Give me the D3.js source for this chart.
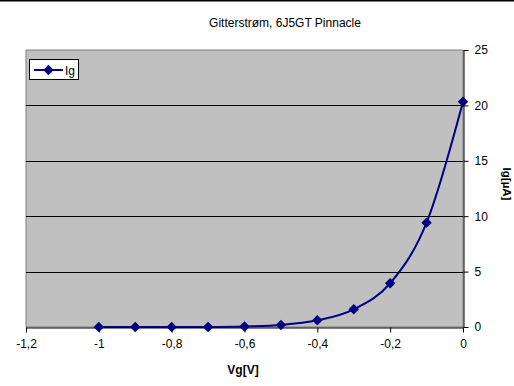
<!DOCTYPE html>
<html><head><meta charset="utf-8">
<script src="https://cdn.jsdelivr.net/npm/d3@7"></script>
<style>body{margin:0;background:#fff}svg{display:block}text{font-family:"Liberation Sans",Arial,sans-serif}</style>
</head><body>
<svg id="c" width="514" height="386"></svg>
<script>
const vg = [-1, -0.9, -0.8, -0.7, -0.6, -0.5, -0.4, -0.3, -0.2, -0.1, 0];
const ig = [0, 0, 0, 0, 0.05, 0.18, 0.6, 1.6, 3.95, 9.42, 20.33];
const xTicks = [-1.2, -1, -0.8, -0.6, -0.4, -0.2, 0];
const yTicks = [0, 5, 10, 15, 20, 25];
const title = "Gitterstrøm, 6J5GT Pinnacle";
const seriesName = "Ig";
const xLabel = "Vg[V]";
const yLabel = "Ig[µA]";

const svg = d3.select("#c");
const L = 26, R = 463, T = 50, B = 327;
const x = d3.scaleLinear().domain([-1.2, 0]).range([L, R]);
const y = d3.scaleLinear().domain([0, 25]).range([B, T]);
const col = "#000080";
const fmt = d => String(d).replace(".", ",");

svg.append("rect").attr("x",0).attr("y",0).attr("width",514).attr("height",1.5).attr("fill","#000");
svg.append("rect").attr("x",L).attr("y",T).attr("width",R-L).attr("height",B-T)
  .attr("fill","#c0c0c0").attr("stroke","#808080").attr("stroke-width",1);

// gridlines
svg.append("g").selectAll("line").data(yTicks.filter(d=>d>0 && d<25)).join("line")
  .attr("x1",L).attr("x2",R).attr("y1",d=>Math.round(y(d))+0.5).attr("y2",d=>Math.round(y(d))+0.5)
  .attr("stroke","#000").attr("stroke-width",1);

// x axis
const xa = svg.append("g").attr("transform",`translate(0,${B+0.5})`)
  .call(d3.axisBottom(x).tickValues(xTicks).tickFormat(fmt).tickSize(5).tickSizeOuter(0));
xa.select(".domain").attr("stroke","#000");
xa.selectAll("text").attr("font-size",12).attr("fill","#000").attr("dy","1.05em");

// y axis right
const ya = svg.append("g").attr("transform",`translate(${R+0.5},0)`)
  .call(d3.axisRight(y).tickValues(yTicks).tickFormat(d=>d).tickSize(5).tickSizeOuter(0));
ya.select(".domain").attr("stroke","#000");
ya.selectAll("text").attr("font-size",12).attr("fill","#000").attr("x",11);

// line
const line = d3.line().x((d,i)=>x(vg[i])).y(d=>y(d)).curve(d3.curveCatmullRom.alpha(0));
svg.append("path").datum(ig).attr("d",line).attr("fill","none").attr("stroke",col).attr("stroke-width",2);
const diamond = d3.symbol().type(d3.symbolDiamond2).size(70);
svg.append("g").selectAll("path").data(ig).join("path")
  .attr("transform",(d,i)=>`translate(${x(vg[i])},${y(d)})`).attr("d",diamond).attr("fill",col);

// title
svg.append("text").attr("x",285).attr("y",27).attr("text-anchor","middle").attr("font-size",12).text(title);
svg.append("text").attr("x",243).attr("y",374).attr("text-anchor","middle").attr("font-size",12).attr("font-weight","bold").text(xLabel);
svg.append("text").attr("transform","translate(503,184) rotate(90)").attr("text-anchor","middle").attr("font-size",11.5).attr("font-weight","bold").text(yLabel);

// legend
svg.append("rect").attr("x",29.5).attr("y",59.5).attr("width",49).attr("height",20).attr("fill","#fff").attr("stroke","#000");
svg.append("line").attr("x1",34).attr("x2",63).attr("y1",70).attr("y2",70).attr("stroke",col).attr("stroke-width",2);
svg.append("path").attr("transform","translate(48.5,70)").attr("d",diamond).attr("fill",col);
svg.append("text").attr("x",65).attr("y",75).attr("font-size",12).text(seriesName);
</script>
</body></html>
